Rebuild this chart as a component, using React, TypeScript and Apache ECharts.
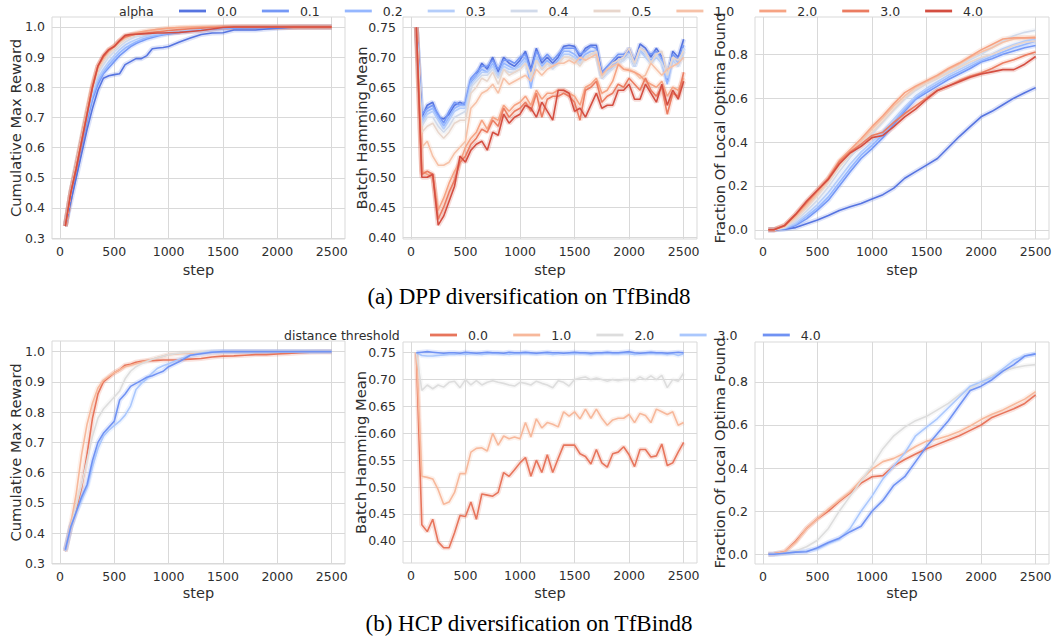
import React, { useEffect, useRef } from "react";
import * as echarts from "echarts";

// ---------- x positions (training steps) ----------
const STEPS_ALL = [
  50, 100, 150, 200, 250, 300, 350, 400, 450, 500,
  550, 600, 650, 700, 750, 800, 850, 900, 950, 1000,
  1050, 1100, 1150, 1200, 1250, 1300, 1350, 1400, 1450, 1500,
  1550, 1600, 1650, 1700, 1750, 1800, 1850, 1900, 1950, 2000,
  2050, 2100, 2150, 2200, 2250, 2300, 2350, 2400, 2450, 2500,
];
const STEPS_FINE = [
  50, 100, 150, 200, 250, 300, 350, 400, 450, 500,
  550, 600, 650, 700, 750, 800, 850, 900, 950, 1000,
  1100, 1200, 1300, 1400, 1500, 1600, 1700, 1800, 1900, 2000,
  2100, 2200, 2300, 2400, 2500,
];
const STEPS_COARSE = [
  50, 100, 200, 300, 400, 500, 600, 700, 800, 900,
  1000, 1100, 1200, 1300, 1400, 1500, 1600, 1700, 1800, 1900,
  2000, 2100, 2200, 2300, 2400, 2500,
];

// ---------- categories ----------
const ALPHA_LABELS = ["0.0", "0.1", "0.2", "0.3", "0.4", "0.5", "1.0", "2.0", "3.0", "4.0"];
const DIST_LABELS = ["0.0", "1.0", "2.0", "3.0", "4.0"];

// ---------- tick labels ----------
const X_TICKS = [0, 500, 1000, 1500, 2000, 2500];
const CUM_TICKS = [0.3, 0.4, 0.5, 0.6, 0.7, 0.8, 0.9, 1.0];
const HAM_TICKS = [0.4, 0.45, 0.5, 0.55, 0.6, 0.65, 0.7, 0.75];
const FRAC_TICKS = [0, 0.2, 0.4, 0.6, 0.8];

// ---------- (a) DPP : Cumulative Max Reward (STEPS_FINE) ----------
const DPP_CUM_A00 = [0.34,0.42,0.50,0.58,0.66,0.73,0.79,0.83,0.838,0.842, 0.845,0.875,0.885,0.895,0.895,0.905,0.928,0.93,0.932,0.935, 0.95,0.963,0.975,0.98,0.981,0.99,0.99,0.99,0.993,0.996, 0.998,1.0,1.0,1.0,1.0];
const DPP_CUM_A01 = [0.34,0.44,0.53,0.61,0.69,0.76,0.81,0.845,0.865,0.885, 0.905,0.92,0.935,0.945,0.953,0.96,0.965,0.97,0.974,0.977, 0.982,0.986,0.99,0.993,0.995,0.996,0.997,0.997,0.998,0.998, 0.999,1.0,1.0,1.0,1.0];
const DPP_CUM_A02 = [0.34,0.45,0.54,0.62,0.70,0.77,0.82,0.85,0.875,0.895, 0.915,0.93,0.94,0.95,0.958,0.964,0.969,0.973,0.976,0.979, 0.984,0.988,0.992,0.995,0.997,0.998,0.999,1.0,1.0,1.0, 1.0,1.0,1.0,1.0,1.0];
const DPP_CUM_A03 = [0.34,0.45,0.54,0.63,0.71,0.78,0.83,0.86,0.885,0.905, 0.925,0.94,0.95,0.958,0.965,0.97,0.974,0.977,0.98,0.983, 0.988,0.992,0.995,0.997,0.998,0.999,1.0,1.0,1.0,1.0, 1.0,1.0,1.0,1.0,1.0];
const DPP_CUM_A04 = [0.34,0.45,0.54,0.63,0.72,0.79,0.845,0.875,0.90,0.918, 0.935,0.95,0.96,0.968,0.973,0.977,0.98,0.983,0.985,0.987, 0.991,0.994,0.997,0.999,1.0,1.0,1.0,1.0,1.0,1.0, 1.0,1.0,1.0,1.0,1.0];
const DPP_CUM_A05 = [0.34,0.45,0.54,0.63,0.72,0.80,0.855,0.885,0.91,0.928, 0.945,0.958,0.967,0.973,0.978,0.982,0.985,0.988,0.99,0.992, 0.995,0.997,0.999,1.0,1.0,1.0,1.0,1.0,1.0,1.0, 1.0,1.0,1.0,1.0,1.0];
const DPP_CUM_A10 = [0.34,0.45,0.54,0.63,0.72,0.80,0.86,0.895,0.92,0.935, 0.952,0.965,0.972,0.978,0.982,0.986,0.989,0.992,0.994,0.996, 0.998,0.999,1.0,1.0,1.0,1.0,1.0,1.0,1.0,1.0, 1.0,1.0,1.0,1.0,1.0];
const DPP_CUM_A20 = [0.34,0.45,0.54,0.63,0.72,0.81,0.87,0.90,0.925,0.937, 0.955,0.968,0.974,0.98,0.984,0.987,0.99,0.992,0.994,0.996, 0.998,0.999,1.0,1.0,1.0,1.0,1.0,1.0,1.0,1.0, 1.0,1.0,1.0,1.0,1.0];
const DPP_CUM_A30 = [0.34,0.45,0.53,0.62,0.71,0.80,0.87,0.90,0.922,0.935, 0.953,0.967,0.972,0.976,0.978,0.98,0.982,0.984,0.986,0.988, 0.991,0.994,0.996,0.998,0.999,1.0,1.0,1.0,1.0,1.0, 1.0,1.0,1.0,1.0,1.0];
const DPP_CUM_A40 = [0.34,0.45,0.53,0.62,0.71,0.80,0.87,0.905,0.925,0.935, 0.955,0.972,0.975,0.976,0.977,0.978,0.979,0.98,0.98,0.981, 0.982,0.985,0.988,0.993,0.998,1.0,1.0,1.0,1.0,1.0, 1.0,1.0,1.0,1.0,1.0];

// ---------- (a) DPP : Batch Hamming Mean (STEPS_ALL) ----------
const DPP_HAM_A00 = [0.75,0.60,0.62,0.625,0.60,0.597,0.605,0.62,0.625,0.62, 0.66,0.67,0.69,0.68,0.70,0.675,0.70,0.69,0.685,0.695, 0.71,0.68,0.715,0.69,0.70,0.69,0.70,0.718,0.72,0.718, 0.70,0.715,0.72,0.72,0.67,0.68,0.69,0.70,0.70,0.715, 0.69,0.722,0.715,0.70,0.715,0.70,0.66,0.71,0.70,0.73];
const DPP_HAM_A01 = [0.75,0.605,0.615,0.62,0.605,0.59,0.61,0.625,0.62,0.625, 0.665,0.675,0.685,0.685,0.695,0.68,0.695,0.695,0.69,0.70, 0.705,0.675,0.71,0.695,0.705,0.695,0.705,0.715,0.715,0.715, 0.705,0.71,0.718,0.715,0.675,0.685,0.695,0.705,0.705,0.71, 0.695,0.715,0.71,0.705,0.71,0.70,0.67,0.705,0.695,0.72];
const DPP_HAM_A02 = [0.75,0.595,0.61,0.615,0.60,0.585,0.60,0.615,0.62,0.62, 0.66,0.67,0.68,0.675,0.69,0.67,0.69,0.685,0.68,0.69, 0.70,0.648,0.70,0.685,0.695,0.685,0.695,0.71,0.71,0.705, 0.695,0.705,0.71,0.71,0.665,0.675,0.685,0.695,0.70,0.705, 0.685,0.71,0.705,0.695,0.705,0.695,0.655,0.70,0.69,0.715];
const DPP_HAM_A03 = [0.75,0.59,0.605,0.61,0.595,0.58,0.595,0.61,0.615,0.615, 0.655,0.665,0.675,0.675,0.685,0.67,0.685,0.68,0.68,0.685, 0.695,0.665,0.70,0.68,0.69,0.685,0.69,0.705,0.705,0.70, 0.69,0.70,0.705,0.705,0.67,0.675,0.685,0.69,0.695,0.705, 0.685,0.71,0.70,0.69,0.70,0.69,0.665,0.695,0.685,0.71];
const DPP_HAM_A04 = [0.75,0.585,0.60,0.60,0.585,0.575,0.585,0.60,0.605,0.61, 0.65,0.66,0.67,0.67,0.68,0.665,0.68,0.675,0.675,0.68, 0.69,0.665,0.695,0.68,0.69,0.68,0.69,0.70,0.70,0.695, 0.69,0.70,0.705,0.705,0.665,0.675,0.68,0.69,0.695,0.705, 0.685,0.715,0.705,0.69,0.705,0.69,0.67,0.70,0.685,0.715];
const DPP_HAM_A05 = [0.75,0.575,0.585,0.59,0.575,0.565,0.575,0.59,0.595,0.595, 0.64,0.65,0.665,0.66,0.675,0.655,0.68,0.67,0.675,0.68, 0.69,0.67,0.695,0.68,0.69,0.685,0.69,0.70,0.70,0.695, 0.685,0.70,0.705,0.71,0.665,0.68,0.69,0.695,0.70,0.715, 0.69,0.715,0.71,0.69,0.705,0.71,0.67,0.70,0.695,0.71];
const DPP_HAM_A10 = [0.75,0.55,0.56,0.535,0.52,0.52,0.525,0.54,0.55,0.56, 0.615,0.625,0.64,0.645,0.655,0.64,0.665,0.655,0.66,0.665, 0.67,0.66,0.68,0.67,0.68,0.685,0.69,0.69,0.695,0.69, 0.70,0.695,0.70,0.705,0.67,0.68,0.685,0.69,0.68,0.68, 0.675,0.665,0.67,0.69,0.68,0.67,0.68,0.685,0.69,0.70];
const DPP_HAM_A20 = [0.75,0.51,0.505,0.50,0.445,0.465,0.49,0.51,0.525,0.55, 0.565,0.575,0.595,0.58,0.60,0.595,0.62,0.61,0.62,0.625, 0.635,0.62,0.645,0.63,0.64,0.64,0.645,0.645,0.64,0.635, 0.62,0.65,0.655,0.665,0.64,0.645,0.66,0.688,0.68,0.678, 0.675,0.67,0.66,0.655,0.65,0.66,0.635,0.65,0.645,0.665];
const DPP_HAM_A30 = [0.75,0.505,0.51,0.505,0.43,0.45,0.475,0.495,0.525,0.535, 0.555,0.565,0.58,0.575,0.595,0.585,0.615,0.60,0.61,0.615, 0.625,0.61,0.64,0.60,0.63,0.635,0.635,0.64,0.635,0.625, 0.595,0.645,0.65,0.66,0.625,0.635,0.64,0.655,0.65,0.665, 0.655,0.645,0.665,0.645,0.635,0.65,0.605,0.64,0.635,0.675];
const DPP_HAM_A40 = [0.75,0.50,0.50,0.505,0.42,0.435,0.46,0.485,0.535,0.525, 0.545,0.555,0.56,0.545,0.575,0.57,0.605,0.59,0.60,0.605, 0.62,0.615,0.60,0.625,0.61,0.595,0.645,0.645,0.64,0.61, 0.615,0.60,0.62,0.64,0.615,0.62,0.62,0.645,0.645,0.655, 0.63,0.63,0.655,0.64,0.625,0.655,0.62,0.645,0.63,0.66];

// ---------- (a) DPP : Fraction Of Local Optima Found (STEPS_COARSE) ----------
const DPP_FRAC_A00 = [0,0,0.003,0.01,0.028,0.045,0.065,0.088,0.105,0.12, 0.14,0.16,0.19,0.235,0.265,0.295,0.325,0.375,0.425,0.47, 0.515,0.54,0.57,0.60,0.625,0.648];
const DPP_FRAC_A01 = [0,0,0.005,0.02,0.05,0.09,0.135,0.20,0.265,0.325, 0.37,0.42,0.48,0.54,0.595,0.625,0.655,0.685,0.71,0.735, 0.765,0.78,0.80,0.815,0.83,0.84];
const DPP_FRAC_A02 = [0,0,0.006,0.025,0.06,0.10,0.15,0.215,0.28,0.34, 0.385,0.435,0.49,0.55,0.60,0.635,0.665,0.695,0.72,0.745, 0.77,0.79,0.81,0.83,0.845,0.86];
const DPP_FRAC_A03 = [0,0,0.008,0.03,0.07,0.115,0.17,0.235,0.30,0.355, 0.40,0.45,0.505,0.56,0.61,0.645,0.675,0.705,0.73,0.755, 0.78,0.80,0.825,0.845,0.86,0.87];
const DPP_FRAC_A04 = [0,0,0.01,0.04,0.085,0.135,0.195,0.265,0.33,0.385, 0.435,0.49,0.545,0.595,0.635,0.665,0.69,0.72,0.745,0.775, 0.80,0.83,0.86,0.885,0.90,0.91];
const DPP_FRAC_A05 = [0,0,0.012,0.05,0.10,0.155,0.215,0.285,0.345,0.40, 0.445,0.495,0.55,0.60,0.64,0.665,0.69,0.715,0.74,0.765, 0.785,0.80,0.82,0.84,0.855,0.86];
const DPP_FRAC_A10 = [0,0,0.015,0.06,0.11,0.165,0.225,0.30,0.355,0.405, 0.46,0.51,0.565,0.61,0.65,0.675,0.70,0.73,0.755,0.785, 0.81,0.83,0.855,0.87,0.875,0.88];
const DPP_FRAC_A20 = [0,0,0.018,0.065,0.12,0.175,0.235,0.315,0.365,0.415, 0.47,0.52,0.575,0.625,0.655,0.68,0.705,0.735,0.76,0.79, 0.82,0.845,0.87,0.875,0.875,0.875];
const DPP_FRAC_A30 = [0,0,0.02,0.07,0.125,0.18,0.235,0.31,0.355,0.39, 0.43,0.445,0.49,0.53,0.565,0.60,0.635,0.655,0.68,0.70, 0.715,0.735,0.76,0.775,0.795,0.81];
const DPP_FRAC_A40 = [0,0,0.02,0.07,0.13,0.18,0.23,0.30,0.35,0.38, 0.42,0.43,0.47,0.515,0.55,0.595,0.635,0.655,0.675,0.695, 0.71,0.72,0.73,0.73,0.755,0.79];

// ---------- (b) HCP : Cumulative Max Reward (STEPS_FINE) ----------
const HCP_CUM_D0 = [0.34,0.42,0.48,0.55,0.66,0.78,0.86,0.90,0.915,0.93, 0.94,0.955,0.958,0.965,0.968,0.97,0.97,0.971,0.972,0.972, 0.973,0.975,0.977,0.982,0.985,0.986,0.988,0.99,0.99,0.992, 0.994,0.996,0.998,0.999,0.999];
const HCP_CUM_D1 = [0.34,0.43,0.53,0.66,0.76,0.83,0.88,0.905,0.918,0.93, 0.94,0.95,0.955,0.96,0.965,0.97,0.975,0.98,0.985,0.99, 0.993,0.995,0.997,0.998,0.999,1.0,1.0,1.0,1.0,1.0, 1.0,1.0,1.0,1.0,1.0];
const HCP_CUM_D2 = [0.34,0.42,0.49,0.56,0.64,0.72,0.78,0.81,0.83,0.85, 0.87,0.91,0.935,0.95,0.96,0.967,0.975,0.98,0.985,0.99, 0.995,0.997,1.0,1.0,1.0,1.0,1.0,1.0,1.0,1.0, 1.0,1.0,1.0,1.0,1.0];
const HCP_CUM_D3 = [0.34,0.42,0.47,0.51,0.55,0.62,0.68,0.72,0.74,0.755, 0.77,0.79,0.82,0.875,0.895,0.91,0.93,0.945,0.953,0.96, 0.975,0.988,0.995,1.0,1.0,1.0,1.0,1.0,1.0,1.0, 1.0,1.0,1.0,1.0,1.0];
const HCP_CUM_D4 = [0.345,0.42,0.47,0.52,0.56,0.64,0.70,0.73,0.75,0.77, 0.84,0.86,0.885,0.895,0.905,0.915,0.92,0.928,0.935,0.95, 0.967,0.988,0.993,0.998,1.0,1.0,1.0,1.0,1.0,1.0, 1.0,1.0,1.0,1.0,1.0];

// ---------- (b) HCP : Batch Hamming Mean (STEPS_ALL) ----------
const HCP_HAM_D0 = [0.75,0.43,0.417,0.44,0.398,0.387,0.387,0.415,0.447,0.445, 0.472,0.44,0.487,0.485,0.483,0.49,0.527,0.52,0.532,0.545, 0.555,0.52,0.55,0.527,0.56,0.527,0.553,0.578,0.578,0.578, 0.562,0.557,0.543,0.57,0.545,0.537,0.562,0.565,0.575,0.56, 0.538,0.57,0.57,0.556,0.558,0.58,0.54,0.545,0.565,0.583];
const HCP_HAM_D1 = [0.75,0.52,0.518,0.515,0.495,0.468,0.472,0.49,0.525,0.525, 0.565,0.572,0.573,0.567,0.60,0.578,0.595,0.59,0.593,0.59, 0.62,0.593,0.627,0.61,0.62,0.617,0.612,0.64,0.632,0.64, 0.627,0.645,0.628,0.645,0.628,0.615,0.625,0.628,0.628,0.635, 0.62,0.637,0.633,0.62,0.645,0.64,0.635,0.64,0.615,0.62];
const HCP_HAM_D2 = [0.75,0.68,0.69,0.683,0.69,0.686,0.695,0.697,0.685,0.70, 0.69,0.698,0.69,0.695,0.698,0.695,0.693,0.69,0.688,0.695, 0.693,0.69,0.697,0.693,0.69,0.685,0.698,0.695,0.688,0.70, 0.703,0.705,0.70,0.703,0.70,0.697,0.70,0.698,0.70,0.70, 0.698,0.705,0.70,0.707,0.70,0.708,0.685,0.70,0.697,0.712];
const HCP_HAM_D3 = [0.75,0.745,0.744,0.744,0.745,0.746,0.747,0.747,0.748,0.747, 0.748,0.748,0.747,0.748,0.749,0.748,0.748,0.747,0.748,0.748, 0.749,0.748,0.748,0.749,0.748,0.747,0.748,0.749,0.748,0.748, 0.749,0.748,0.747,0.748,0.748,0.749,0.748,0.748,0.749,0.748, 0.747,0.748,0.748,0.749,0.748,0.748,0.747,0.748,0.745,0.748];
const HCP_HAM_D4 = [0.75,0.751,0.752,0.751,0.75,0.749,0.75,0.75,0.749,0.751, 0.75,0.749,0.75,0.751,0.75,0.75,0.749,0.751,0.75,0.75, 0.751,0.75,0.749,0.75,0.751,0.75,0.75,0.749,0.75,0.751, 0.75,0.75,0.749,0.75,0.75,0.751,0.75,0.75,0.751,0.752, 0.75,0.749,0.75,0.751,0.75,0.75,0.749,0.75,0.751,0.75];

// ---------- (b) HCP : Fraction Of Local Optima Found (STEPS_COARSE) ----------
const HCP_FRAC_D0 = [0,0.002,0.012,0.06,0.12,0.165,0.20,0.245,0.285,0.33, 0.36,0.365,0.41,0.44,0.465,0.49,0.51,0.53,0.55,0.575, 0.60,0.635,0.655,0.675,0.70,0.74];
const HCP_FRAC_D1 = [0,0.002,0.012,0.055,0.12,0.165,0.21,0.25,0.29,0.345, 0.395,0.43,0.445,0.47,0.50,0.525,0.535,0.55,0.57,0.595, 0.625,0.65,0.67,0.695,0.72,0.755];
const HCP_FRAC_D2 = [0,0,0.005,0.015,0.035,0.065,0.12,0.20,0.27,0.34, 0.41,0.49,0.55,0.59,0.62,0.64,0.67,0.70,0.74,0.77, 0.80,0.83,0.85,0.865,0.875,0.88];
const HCP_FRAC_D3 = [0,0,0.005,0.01,0.015,0.025,0.05,0.07,0.12,0.20, 0.27,0.35,0.41,0.47,0.55,0.59,0.63,0.68,0.73,0.78, 0.80,0.82,0.86,0.90,0.92,0.93];
const HCP_FRAC_D4 = [0,0,0.005,0.01,0.012,0.03,0.055,0.075,0.105,0.13, 0.20,0.25,0.32,0.36,0.43,0.50,0.56,0.62,0.69,0.76, 0.78,0.81,0.85,0.88,0.92,0.93];

// ---------- styling ----------
const ALPHA_COLORS = ["#5674e0", "#7598f6", "#95b7ff", "#b4cdfa", "#d1daea", "#e8d6cc", "#f6c1a7", "#f6a383", "#eb7c61", "#d44e41"];
const DIST_COLORS = ["#e7755c", "#f7b89b", "#dddddd", "#aac7fd", "#7092f3"];
const FONT = "'DejaVu Sans', Verdana, sans-serif";
const SERIF = "'Liberation Serif', 'Times New Roman', serif";
const TEXT = "#2e2e2e";
const GRIDC = "#d9d9d9";

const X_MIN = -72.5;
const X_MAX = 2622.5;

const LAYOUT = [
  { left: 52, top: 17, width: 293, height: 222 },
  { left: 403, top: 17, width: 294, height: 222 },
  { left: 755, top: 17, width: 294, height: 222 },
  { left: 52, top: 341, width: 293, height: 223 },
  { left: 403, top: 342, width: 294, height: 221 },
  { left: 755, top: 342, width: 294, height: 222 },
];

const PANELS = [
  { steps: STEPS_FINE, data: [DPP_CUM_A00, DPP_CUM_A01, DPP_CUM_A02, DPP_CUM_A03, DPP_CUM_A04, DPP_CUM_A05, DPP_CUM_A10, DPP_CUM_A20, DPP_CUM_A30, DPP_CUM_A40], colors: ALPHA_COLORS, ymin: 0.297, ymax: 1.033, ticks: CUM_TICKS, dec: 1, title: "Cumulative Max Reward", titleX: 15 },
  { steps: STEPS_ALL, data: [DPP_HAM_A00, DPP_HAM_A01, DPP_HAM_A02, DPP_HAM_A03, DPP_HAM_A04, DPP_HAM_A05, DPP_HAM_A10, DPP_HAM_A20, DPP_HAM_A30, DPP_HAM_A40], colors: ALPHA_COLORS, ymin: 0.397, ymax: 0.767, ticks: HAM_TICKS, dec: 2, title: "Batch Hamming Mean", titleX: 361 },
  { steps: STEPS_COARSE, data: [DPP_FRAC_A00, DPP_FRAC_A01, DPP_FRAC_A02, DPP_FRAC_A03, DPP_FRAC_A04, DPP_FRAC_A05, DPP_FRAC_A10, DPP_FRAC_A20, DPP_FRAC_A30, DPP_FRAC_A40], colors: ALPHA_COLORS, ymin: -0.042, ymax: 0.97, ticks: FRAC_TICKS, dec: 1, title: "Fraction Of Local Optima Found", titleX: 719 },
  { steps: STEPS_FINE, data: [HCP_CUM_D0, HCP_CUM_D1, HCP_CUM_D2, HCP_CUM_D3, HCP_CUM_D4], colors: DIST_COLORS, ymin: 0.298, ymax: 1.035, ticks: CUM_TICKS, dec: 1, title: "Cumulative Max Reward", titleX: 15 },
  { steps: STEPS_ALL, data: [HCP_HAM_D0, HCP_HAM_D1, HCP_HAM_D2, HCP_HAM_D3, HCP_HAM_D4], colors: DIST_COLORS, ymin: 0.3586, ymax: 0.77, ticks: HAM_TICKS, dec: 2, title: "Batch Hamming Mean", titleX: 360 },
  { steps: STEPS_COARSE, data: [HCP_FRAC_D0, HCP_FRAC_D1, HCP_FRAC_D2, HCP_FRAC_D3, HCP_FRAC_D4], colors: DIST_COLORS, ymin: -0.045, ymax: 0.985, ticks: FRAC_TICKS, dec: 1, title: "Fraction Of Local Optima Found", titleX: 719 },
];

function txt(text: string, x: number, y: number, size: number, extra: any = {}, family = FONT, color = TEXT) {
  return {
    type: "text",
    x,
    y,
    z: 10,
    silent: true,
    ...extra,
    style: {
      text,
      fill: color,
      fontSize: size,
      fontFamily: family,
      align: extra.align || "left",
      verticalAlign: "middle",
      textAlign: extra.align || "left",
      textVerticalAlign: "middle",
    },
  };
}

function legendElements(title: string, titleX: number, y: number, labels: string[], colors: string[], startX: number, step: number) {
  const els: any[] = [txt(title, titleX, y, 12.5)];
  labels.forEach((lab, i) => {
    const x1 = startX + i * step;
    els.push({
      type: "line",
      z: 10,
      silent: true,
      shape: { x1, y1: y, x2: x1 + 27, y2: y },
      style: { stroke: colors[i], lineWidth: 2.8 },
    });
    els.push(txt(lab, x1 + 38, y, 12.5));
  });
  return els;
}

export default function App() {
  const ref = useRef<HTMLDivElement>(null);

  useEffect(() => {
    document.body.style.margin = "0";
    if (!ref.current) return;
    const chart = echarts.init(ref.current, null, { renderer: "svg" });

    const series: any[] = [];
    PANELS.forEach((p, pi) => {
      p.data.forEach((vals, i) => {
        const pts = vals.map((v, k) => [p.steps[k], v]);
        series.push({
          type: "line",
          xAxisIndex: pi,
          yAxisIndex: pi,
          data: pts,
          symbol: "none",
          silent: true,
          z: 2,
          lineStyle: { color: p.colors[i], width: 5, opacity: 0.2 },
        });
      });
      p.data.forEach((vals, i) => {
        const pts = vals.map((v, k) => [p.steps[k], v]);
        series.push({
          type: "line",
          xAxisIndex: pi,
          yAxisIndex: pi,
          data: pts,
          symbol: "none",
          silent: true,
          z: 3,
          lineStyle: { color: p.colors[i], width: 1.6 },
        });
      });
    });

    const graphics: any[] = [];
    graphics.push(...legendElements("alpha", 119, 11, ALPHA_LABELS, ALPHA_COLORS, 179, 82.9));
    graphics.push(...legendElements("distance threshold", 284, 335, DIST_LABELS, DIST_COLORS, 430, 83.2));
    PANELS.forEach((p, pi) => {
      const g = LAYOUT[pi];
      graphics.push(txt(p.title, p.titleX, g.top + g.height / 2, 14.7, { rotation: Math.PI / 2, align: "center" }));
      graphics.push(txt("step", g.left + g.width / 2, pi < 3 ? 270 : 593, 14.5, { align: "center" }));
    });
    graphics.push(txt("(a) DPP diversification on TfBind8", 529, 296, 23, { align: "center" }, SERIF, "#000000"));
    graphics.push(txt("(b) HCP diversification on TfBind8", 529, 623, 23, { align: "center" }, SERIF, "#000000"));

    const option: any = {
      animation: false,
      backgroundColor: "#ffffff",
      grid: LAYOUT.map((l) => ({
        ...l,
        show: true,
        borderColor: GRIDC,
        borderWidth: 1,
        backgroundColor: "transparent",
        containLabel: false,
        outerBoundsMode: "none",
      })),
      xAxis: LAYOUT.map((_, i) => ({
        type: "value",
        gridIndex: i,
        min: X_MIN,
        max: X_MAX,
        axisLine: { show: false },
        axisTick: { show: false, customValues: X_TICKS },
        axisLabel: {
          customValues: X_TICKS,
          formatter: (v: number) => String(v),
          color: TEXT,
          fontSize: 12.5,
          fontFamily: FONT,
          margin: 6,
        },
        splitLine: { show: true, lineStyle: { color: GRIDC, width: 1 } },
      })),
      yAxis: PANELS.map((p, i) => ({
        type: "value",
        gridIndex: i,
        min: p.ymin,
        max: p.ymax,
        axisLine: { show: false },
        axisTick: { show: false, customValues: p.ticks },
        axisLabel: {
          customValues: p.ticks,
          formatter: (v: number) => v.toFixed(p.dec),
          color: TEXT,
          fontSize: 12.5,
          fontFamily: FONT,
          margin: 7,
        },
        splitLine: { show: true, lineStyle: { color: GRIDC, width: 1 } },
      })),
      series,
      graphic: { elements: graphics },
    };

    chart.setOption(option);
    return () => chart.dispose();
  }, []);

  return <div ref={ref} style={{ width: 1056, height: 638 }} />;
}
